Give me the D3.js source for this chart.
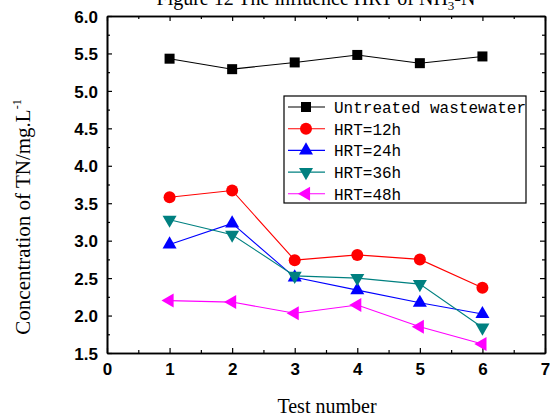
<!DOCTYPE html>
<html>

<head>
    <meta charset="utf-8" />
    <style>
        body { margin: 0; background-color: white; }
        svg { display: block; }
    </style>
    <script src="https://d3js.org/d3.v7.min.js"></script>
</head>

<body>
    <script>
        // data
        var tests = [1, 2, 3, 4, 5, 6];
        var untreated = [5.43, 5.29, 5.38, 5.48, 5.37, 5.46];
        var hrt12 = [3.58, 3.67, 2.74, 2.81, 2.75, 2.37];
        var hrt24 = [2.95, 3.23, 2.51, 2.34, 2.17, 2.02];
        var hrt36 = [3.28, 3.08, 2.53, 2.50, 2.42, 1.84];
        var hrt48 = [2.20, 2.18, 2.03, 2.14, 1.85, 1.62];
        var seriesNames = ["Untreated wastewater", "HRT=12h", "HRT=24h", "HRT=36h", "HRT=48h"];
        var xTicks = [0, 1, 2, 3, 4, 5, 6, 7];
        var yTicks = [1.5, 2.0, 2.5, 3.0, 3.5, 4.0, 4.5, 5.0, 5.5, 6.0];

        var series = [
            { name: seriesNames[0], values: untreated, color: "#000000", shape: "square" },
            { name: seriesNames[1], values: hrt12, color: "#ff0000", shape: "circle" },
            { name: seriesNames[2], values: hrt24, color: "#0000ff", shape: "up" },
            { name: seriesNames[3], values: hrt36, color: "#008080", shape: "down" },
            { name: seriesNames[4], values: hrt48, color: "#ff00ff", shape: "left" }
        ];

        var width = 550, height = 419;
        var plotLeft = 107, plotRight = 545, plotTop = 16, plotBottom = 353;

        var svg = d3.select("body").append("svg")
            .attr("width", width)
            .attr("height", height);

        var x = d3.scaleLinear().domain([0, 7]).range([plotLeft, plotRight]);
        var y = d3.scaleLinear().domain([1.5, 6]).range([plotBottom, plotTop]);

        // title (cut off at the top, as in the original)
        var title = svg.append("text")
            .attr("x", 316)
            .attr("y", 5)
            .attr("text-anchor", "middle")
            .style("font-family", "Liberation Serif")
            .style("font-size", "20px");
        title.append("tspan").text("Figure 12 The influence HRT of NH");
        title.append("tspan").attr("dy", 5).style("font-size", "13px").text("3");
        title.append("tspan").attr("dy", -5).text("-N");

        // axes with inward ticks on all sides
        function styleAxis(g) {
            g.selectAll("path").attr("stroke", "#000").attr("stroke-width", 1.6);
            g.selectAll("line").attr("stroke", "#000").attr("stroke-width", 1.2);
        }
        var xMinor = d3.range(0.5, 7, 1);
        var yMinor = d3.range(1.75, 6, 0.5);

        svg.append("g").attr("transform", "translate(0," + plotBottom + ")")
            .call(d3.axisBottom(x).tickValues(xMinor).tickSize(-3).tickFormat("").tickSizeOuter(0)).call(styleAxis);
        svg.append("g").attr("transform", "translate(0," + plotTop + ")")
            .call(d3.axisTop(x).tickValues(xMinor).tickSize(-3).tickFormat("").tickSizeOuter(0)).call(styleAxis);
        svg.append("g").attr("transform", "translate(" + plotLeft + ",0)")
            .call(d3.axisLeft(y).tickValues(yMinor).tickSize(-3).tickFormat("").tickSizeOuter(0)).call(styleAxis);
        svg.append("g").attr("transform", "translate(" + plotRight + ",0)")
            .call(d3.axisRight(y).tickValues(yMinor).tickSize(-3).tickFormat("").tickSizeOuter(0)).call(styleAxis);

        var xAxis = svg.append("g").attr("transform", "translate(0," + plotBottom + ")")
            .call(d3.axisBottom(x).tickValues(xTicks).tickSize(-5).tickPadding(10).tickFormat(d3.format("d")).tickSizeOuter(0))
            .call(styleAxis);
        svg.append("g").attr("transform", "translate(0," + plotTop + ")")
            .call(d3.axisTop(x).tickValues(xTicks).tickSize(-5).tickFormat("").tickSizeOuter(0)).call(styleAxis);
        var yAxis = svg.append("g").attr("transform", "translate(" + plotLeft + ",0)")
            .call(d3.axisLeft(y).tickValues(yTicks).tickSize(-5).tickPadding(9).tickFormat(d3.format(".1f")).tickSizeOuter(0))
            .call(styleAxis);
        svg.append("g").attr("transform", "translate(" + plotRight + ",0)")
            .call(d3.axisRight(y).tickValues(yTicks).tickSize(-5).tickFormat("").tickSizeOuter(0)).call(styleAxis);

        [xAxis, yAxis].forEach(function (g) {
            g.selectAll("text")
                .attr("fill", "#000")
                .style("font-family", "Liberation Sans")
                .style("font-weight", "bold")
                .style("font-size", "17px");
        });
        yAxis.selectAll("text").attr("dy", "0.36em");

        // axis labels
        svg.append("text")
            .attr("x", 327).attr("y", 413)
            .attr("text-anchor", "middle")
            .style("font-family", "Liberation Serif")
            .style("font-size", "20px")
            .text("Test number");

        var yl = svg.append("text")
            .attr("transform", "translate(30,217) rotate(-90)")
            .attr("text-anchor", "middle")
            .style("font-family", "Liberation Serif")
            .style("font-size", "21px");
        yl.append("tspan").text("Concentration of TN/mg.L");
        yl.append("tspan").attr("dy", -9).style("font-size", "12px").text("-1");

        // markers
        function drawMarker(g, shape, color, cx, cy) {
            if (shape === "square") {
                g.append("rect").attr("x", cx - 5).attr("y", cy - 5).attr("width", 10).attr("height", 10).attr("fill", color);
            } else if (shape === "circle") {
                g.append("circle").attr("cx", cx).attr("cy", cy).attr("r", 6).attr("fill", color);
            } else {
                var sym = d3.symbol().type(d3.symbolTriangle).size(85);
                var rot = shape === "up" ? 0 : shape === "down" ? 180 : -90;
                g.append("path").attr("d", sym())
                    .attr("transform", "translate(" + cx + "," + cy + ") rotate(" + rot + ")")
                    .attr("fill", color);
            }
        }

        var line = d3.line()
            .x(function (d, i) { return x(tests[i]); })
            .y(function (d) { return y(d); });

        series.forEach(function (s) {
            var g = svg.append("g");
            g.append("path").datum(s.values)
                .attr("d", line)
                .attr("fill", "none")
                .attr("stroke", s.color)
                .attr("stroke-width", 1.1);
            s.values.forEach(function (v, i) {
                drawMarker(g, s.shape, s.color, x(tests[i]), y(v));
            });
        });

        // legend
        var lg = svg.append("g");
        lg.append("rect")
            .attr("x", 284).attr("y", 96).attr("width", 242).attr("height", 107)
            .attr("fill", "white").attr("stroke", "#000").attr("stroke-width", 1.2);
        series.forEach(function (s, i) {
            var ly = 107 + i * 21.7;
            lg.append("line").attr("x1", 288).attr("x2", 325).attr("y1", ly).attr("y2", ly)
                .attr("stroke", s.color).attr("stroke-width", 1.1);
            drawMarker(lg, s.shape, s.color, 306, ly);
            lg.append("text")
                .attr("x", 334).attr("y", ly + 6)
                .style("font-family", "Liberation Mono")
                .style("font-size", "16px")
                .text(s.name);
        });
    </script>
</body>

</html>
